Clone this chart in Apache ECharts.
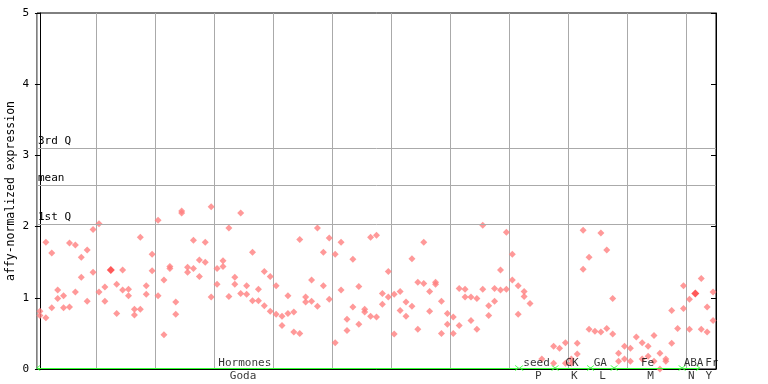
<!DOCTYPE html>
<html>
<head>
<meta charset="utf-8">
<script src="https://cdn.jsdelivr.net/npm/echarts@6/dist/echarts.min.js"></script>
<style>html,body{margin:0;padding:0;background:#fff}#c{width:768px;height:384px}</style>
</head>
<body>
<div id="c"></div>
<script>
// replicate 1 / replicate 2 per sample (null = no visible point)
const rep1 = [0.81,1.78,1.63,1.11,1.03,1.77,1.74,1.57,1.67,1.96,
  2.04,1.15,null,1.19,1.39,1.12,0.84,1.85,1.17,1.61,
  2.09,1.25,1.44,0.94,2.22,1.43,1.81,1.53,1.78,2.28,
  1.41,1.52,1.98,1.29,2.19,1.17,1.64,1.12,1.37,1.30,
  1.17,0.74,1.03,0.80,1.82,1.01,1.25,1.98,1.64,1.84,
  1.61,1.78,0.70,1.54,1.16,0.84,1.85,1.88,1.06,1.37,
  1.05,1.09,0.94,1.55,1.22,1.78,1.09,1.22,0.95,0.78,
  0.73,1.13,1.12,1.01,0.99,2.02,0.89,1.13,1.39,1.92,
  1.61,1.17,1.09,0.92,null,0.14,null,0.32,0.29,0.37,
  0.14,0.36,1.95,1.57,0.53,1.91,1.67,0.99,0.22,0.32,
  0.29,0.45,0.37,0.32,0.47,0.22,0.14,0.82,0.57,1.17,
  0.98,null,1.27,0.87,1.08];
const rep2 = [0.75,0.72,0.86,0.99,0.86,0.87,1.08,1.29,0.95,1.36,
  1.08,0.95,null,0.78,1.11,1.03,0.76,0.84,1.05,1.38,
  1.03,0.48,1.41,0.77,2.19,1.36,1.41,1.30,1.50,1.01,
  1.19,1.44,1.02,1.19,1.06,1.05,0.96,0.96,0.89,0.81,
  0.77,0.61,0.78,0.52,0.50,0.94,0.95,0.88,1.17,0.98,
  0.37,1.11,0.54,0.87,0.63,0.80,0.74,0.73,0.91,1.01,
  0.49,0.82,0.74,0.88,0.56,1.20,0.81,1.19,0.50,0.63,
  0.50,0.61,1.01,0.68,0.56,1.12,0.75,0.95,1.11,1.12,
  1.25,0.77,1.02,null,null,null,null,0.08,null,0.08,
  0.08,0.21,1.40,0.56,null,0.52,0.57,0.49,0.11,0.14,
  0.11,null,0.14,0.18,0.11,0.00,0.11,0.36,null,0.85,
  0.56,null,0.56,0.52,0.68];
// highlighted samples [sample index, value]
const selected = [[12, 1.39], [111, 1.06]];

// reference statistic lines
const qNames = ['3rd Q', 'mean', '1st Q'];
const qValues = [3.10, 2.58, 2.03];

// sample groups
const groupTop = ['Hormones','seed','CK','GA','Fe','ABA','Fr'];
const groupBottom = ['Goda','P','K','L','M','N','Y'];
const groupStart = [-0.3, 81.5, 87.5, 93.5, 97.5, 109, 112];
const groupEnd = [80.8, 87, 93, 97, 108.5, 111.5, 114.7];
const topLabelPos = [34.7, 84.1, 90.1, 94.9, 102.9, 110.7, 113.8];
const bottomLabelPos = [34.4, 84.4, 90.5, 95.3, 103.4, 110.3, 113.3];

const yTicks = [0, 1, 2, 3, 4, 5];

const categories = rep1.map((_, i) => 'S' + (i + 1));
const FONT = 'DejaVu Sans Mono';
const ptColor = '#ff8080';
const chevron = 'path://M0,10 L5,0 L10,10 L8.5,10 L5,3 L1.5,10 Z';

const chart = echarts.init(document.getElementById('c'), null, {renderer: 'canvas'});
chart.setOption({
  animation: false,
  backgroundColor: '#fff',
  grid: {left: 37, top: 13, width: 679, height: 356, containLabel: false, outerBoundsMode: 'none',
    show: true, borderColor: '#000', borderWidth: 1, backgroundColor: 'transparent'},
  xAxis: [{
    type: 'category', data: categories, boundaryGap: true,
    axisLine: {show: true, lineStyle: {color: '#000', width: 1}},
    axisTick: {show: false}, axisLabel: {show: false},
    splitLine: {show: true, interval: 9, lineStyle: {color: '#aaaaaa', width: 1}}
  }, {
    type: 'value', min: -0.5, max: categories.length - 0.5, show: false
  }],
  yAxis: [{
    type: 'value', min: yTicks[0], max: yTicks[yTicks.length - 1], interval: 1,
    name: 'affy-normalized expression', nameLocation: 'middle', nameGap: 20, nameRotate: 90,
    nameMoveOverlap: false,
    nameTextStyle: {fontFamily: FONT, fontSize: 11.5, color: '#000'},
    axisLine: {show: true, lineStyle: {color: '#000'}},
    axisTick: {show: true, inside: false, length: 5, lineStyle: {color: '#000'}},
    axisLabel: {fontFamily: FONT, fontSize: 11, color: '#000', margin: 8},
    splitLine: {show: false}
  }, {
    type: 'value', min: yTicks[0], max: yTicks[yTicks.length - 1], interval: 1, position: 'right',
    axisLine: {show: true, lineStyle: {color: '#000'}},
    axisTick: {show: true, inside: true, length: 5, lineStyle: {color: '#000'}},
    axisLabel: {show: false}, splitLine: {show: false}
  }],
  series: [{
    type: 'scatter', name: 'rep1', symbol: 'diamond', symbolSize: 7,
    itemStyle: {color: ptColor},
    data: rep1.map(v => v == null ? '-' : v),
    markLine: {
      silent: true, symbol: 'none',
      lineStyle: {color: '#aaaaaa', width: 1, type: 'solid'},
      label: {show: true, position: 'insideStartTop', distance: [1, 2], formatter: '{b}',
        fontFamily: FONT, fontSize: 11, color: '#000'},
      data: qValues.map((v, i) => ({name: qNames[i], yAxis: v}))
    }
  }, {
    type: 'scatter', name: 'rep2', symbol: 'diamond', symbolSize: 7,
    itemStyle: {color: ptColor},
    data: rep2.map(v => v == null ? '-' : v)
  }, {
    type: 'scatter', name: 'selected', symbol: 'diamond', symbolSize: 8,
    itemStyle: {color: '#ff3030'},
    data: selected, z: 3
  }, {
    type: 'scatter', name: 'groupTop', xAxisIndex: 1, symbolSize: 0, clip: false, silent: true,
    data: topLabelPos.map(p => [p, 0]),
    label: {show: true, position: 'top', distance: 0, formatter: p => groupTop[p.dataIndex],
      fontFamily: FONT, fontSize: 11, color: '#000'},
    markLine: {
      silent: true, symbol: [chevron, chevron], symbolSize: [6, 4],
      lineStyle: {color: '#33ff33', width: 1, type: 'solid'},
      label: {show: false},
      data: groupStart.map((s, i) => [{coord: [s, 0.015]}, {coord: [groupEnd[i], 0.015]}])
    }
  }, {
    type: 'scatter', name: 'groupBottom', xAxisIndex: 1, symbolSize: 0, clip: false, silent: true,
    data: bottomLabelPos.map(p => [p, 0]),
    label: {show: true, position: 'bottom', distance: 2, formatter: p => groupBottom[p.dataIndex],
      fontFamily: FONT, fontSize: 11, color: '#000'}
  }]
});
</script>
</body>
</html>
